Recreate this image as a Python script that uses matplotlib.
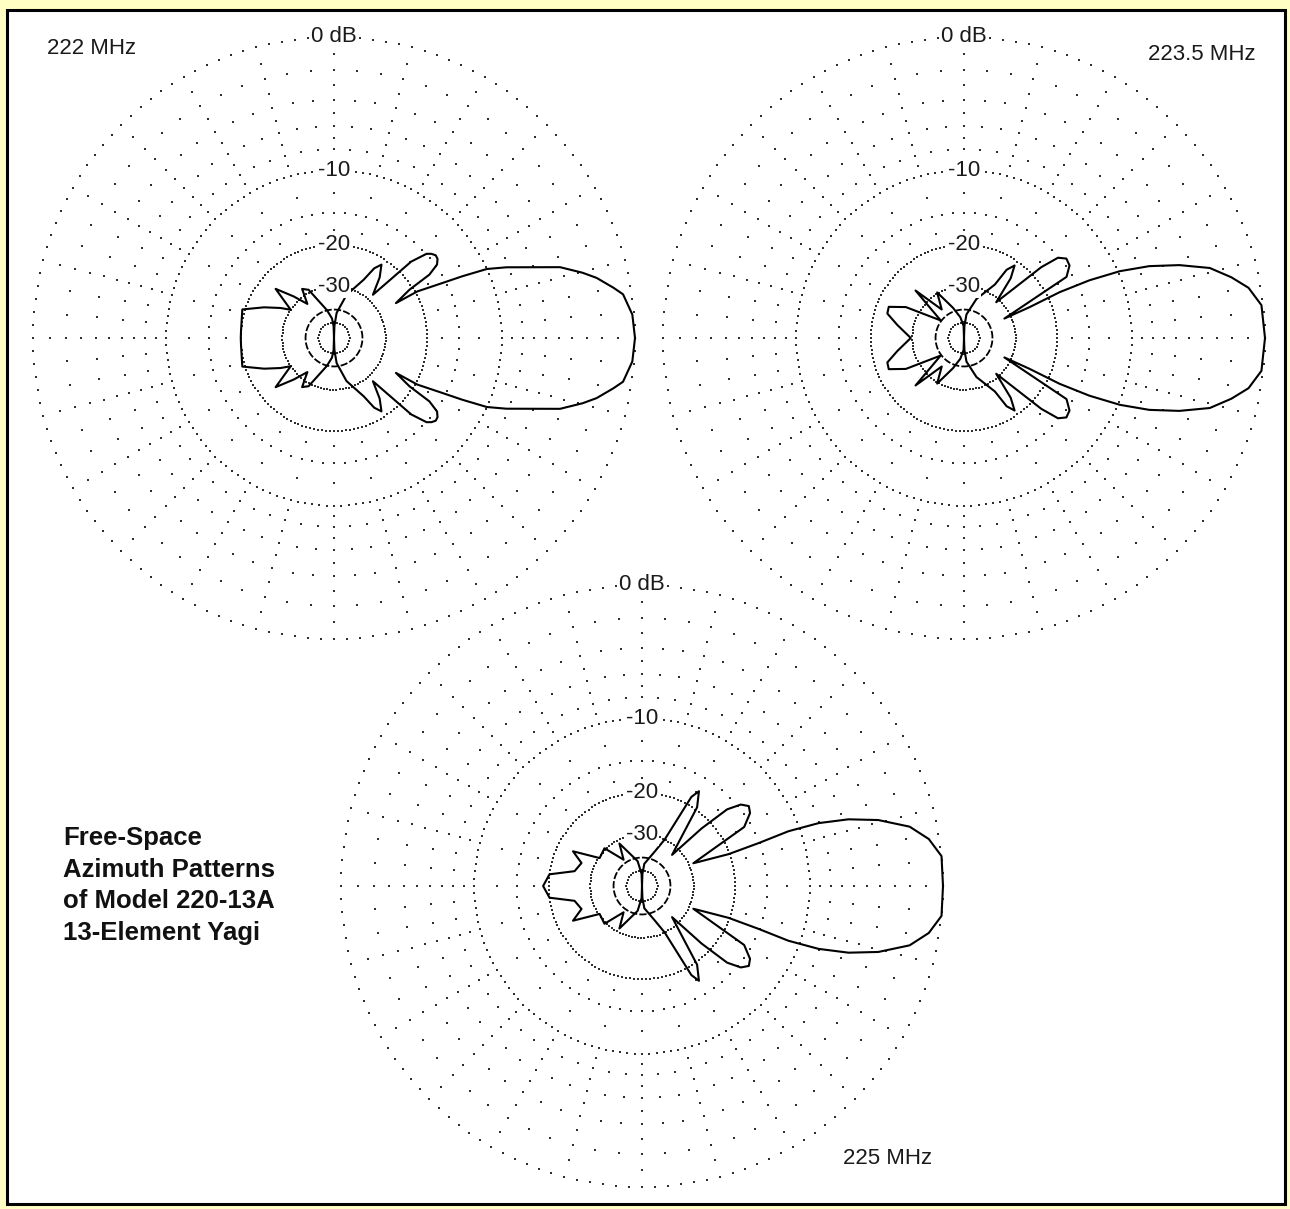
import numpy as np
import matplotlib
matplotlib.use('Agg')
import matplotlib.pyplot as plt
from matplotlib.patches import Rectangle

# figure size in pixels
W, H = 1290, 1209
DPI = 100
R_PX = 301          # radius of the 0 dB ring

# pattern data: upper half (0..180 deg), lower half is the mirror image
theta_222 = [0, 4.5, 8.6, 10.2, 12.9, 14.7, 17.4, 22.3, 24.3, 25.7, 26.9, 29.2, 29.4,
             32.6, 33.6, 35.5, 37.4, 39.1, 40.8, 42.3, 44.7, 48, 53, 57.1, 60, 63, 73.8, 84, 88, 90,
             92, 96, 104.3, 117.8, 123, 128, 134.1, 139.9, 146.9, 150.7, 156.3,
             162.7, 175.7, 180]
gain_222 = [0, -0.1, -0.5, -1.0, -1.9, -2.7, -4.1, -8.2, -10.0, -12.8, -15.5, -19.6, -24.6,
            -20.7, -16.5, -14.8, -14.3, -14.2, -14.5, -15.0, -17.4, -28.0, -23.5, -21.1, -22.5, -26.0,
            -32.4, -42, -54, -100,
            -54, -46, -39.8, -29.1, -27.9, -33, -28.1, -23.4, -30.0, -27.1, -23.4,
            -19.5, -20.0, -20.0]

theta_2235 = [0, 6.3, 10, 12.8, 15.9, 18.7, 21.2, 23.2, 24.7, 25.6, 25.2, 25.7,
              30.8, 34.5, 37.8, 40.5, 42.5, 48, 52, 55.1, 58, 60, 72.3, 84, 88, 90,
              92, 100, 110, 120.5, 128, 135.6, 143, 152, 157.5, 162.3, 169, 180]
gain_2235 = [0, -0.1, -0.7, -1.6, -2.8, -4.8, -7.1, -9.8, -13.3, -17.8, -24.3, -32.4,
             -15.8, -14.6, -14.4, -15.2, -18.0, -31.2, -23.5, -20.9, -22.5, -27, -33.9, -43, -54, -100,
             -54, -45, -38, -29.6, -36, -25.4, -39.6, -25.9, -22.3, -22.5, -25.4, -29.5]

theta_225 = [0, 5.7, 9.3, 12.5, 15.6, 17.9, 19.6, 20.5, 20.2, 20.2, 23.9,
             30, 34, 36.8, 39.5, 42, 44, 46, 55, 59, 61, 64, 70, 84, 88, 90,
             92, 100, 118, 125, 134.8, 146.6, 153.3, 159.2, 167.6, 172.8, 180]
gain_225 = [0, 0, -0.6, -1.6, -3.5, -5.6, -8.1, -11.2, -15.1, -20.2, -28.6,
            -16, -14.3, -13.9, -14.6, -16.5, -22, -33, -19.5, -17.1, -18.5, -30, -36, -44, -54, -100,
            -54, -42, -31.2, -38, -29.5, -30.3, -23.2, -26.2, -25.1, -20.0, -19.0]

freq_labels = ['222 MHz', '223.5 MHz', '225 MHz']
ring_labels = ['0 dB', '-10', '-20', '-30']
ring_label_db = [0, -10, -20, -30]
title_lines = ['Free-Space', 'Azimuth Patterns', 'of Model 220-13A', '13-Element Yagi']

# ARRL log-periodic scale: radius x0.89 for every 2 dB down
def arrl_fwd(db):
    return 0.89 ** (-np.asarray(db, dtype=float) / 2.0)

def arrl_inv(v):
    v = np.clip(np.asarray(v, dtype=float), 1e-12, None)
    return -2.0 * np.log(v) / np.log(0.89)

def mirror(theta, gain):
    t = np.asarray(theta, dtype=float)
    g = np.asarray(gain, dtype=float)
    tt = np.concatenate([t, 360 - t[-2::-1]])
    gg = np.concatenate([g, g[-2::-1]])
    return np.radians(tt), gg

plt.rcParams['font.family'] = ['Liberation Sans', 'DejaVu Sans']

fig = plt.figure(figsize=(W / DPI, H / DPI), dpi=DPI)
fig.patch.set_facecolor('#FFFFC4')

# white panel with black frame
fig.add_artist(Rectangle((6.5 / W, 1 - 1203.5 / H), 1278 / W, 1194 / H,
                         transform=fig.transFigure, facecolor='white',
                         edgecolor='black', linewidth=2.2, zorder=0))

dot_col = '#2e2e2e'
dot_size = 3.2

def polar_panel(cx, cy, theta, gain):
    ax = fig.add_axes([(cx - R_PX) / W, 1 - (cy + R_PX) / H, 2 * R_PX / W, 2 * R_PX / H],
                      projection='polar')
    ax.set_rscale('function', functions=(arrl_fwd, arrl_inv))
    ax.set_rlim(-100, 0)
    ax.set_xticks([])
    ax.set_yticks([])
    ax.grid(False)
    ax.spines['polar'].set_visible(False)
    ax.patch.set_alpha(0)

    # major rings, fine dots
    for db in [0, -10, -20, -30, -50]:
        r = R_PX * arrl_fwd(db)
        step = max(2.5, np.degrees(3.2 / r))
        n = int(round(360 / step))
        th = np.linspace(0, 2 * np.pi, n, endpoint=False)
        ax.scatter(th, np.full(n, db), s=dot_size, marker='s', c=dot_col,
                   linewidths=0, clip_on=False, zorder=1)

    # minor rings: even dB every 5 deg, odd dB every 15 deg
    for db in [-1, -2, -3, -4, -5, -6, -7, -8, -9, -12.5, -15, -17.5]:
        step = 5 if db in (-2, -4, -6, -8, -15) else 15
        th = np.radians(np.arange(0, 360, step))
        ax.scatter(th, np.full(len(th), db), s=dot_size, marker='s', c=dot_col,
                   linewidths=0, clip_on=False, zorder=1)

    # -40 dB ring, dashed
    th = np.linspace(0, 2 * np.pi, 200)
    ax.plot(th, np.full(len(th), -40), color='black', lw=1.3, ls=(0, (4, 1.2)), zorder=2)

    # pattern
    t, g = mirror(theta, gain)
    ax.plot(t, g, color='black', lw=1.5, clip_on=False, zorder=3)

    for lab, db in zip(ring_labels, ring_label_db):
        ax.text(np.pi / 2, db, lab, ha='center', va='center', fontsize=16, color='#1a1a1a',
                bbox=dict(facecolor='white', edgecolor='none', pad=0.6), zorder=5)
    return ax

polar_panel(334, 338, theta_222, gain_222)
polar_panel(964, 338, theta_2235, gain_2235)
polar_panel(642, 886, theta_225, gain_225)

fig.text(47 / W, 1 - 48 / H, freq_labels[0], ha='left', va='center', fontsize=16, color='#1a1a1a')
fig.text(1256 / W, 1 - 55 / H, freq_labels[1], ha='right', va='center', fontsize=16, color='#1a1a1a')
fig.text(843 / W, 1 - 1158 / H, freq_labels[2], ha='left', va='center', fontsize=16, color='#1a1a1a')

for i, line in enumerate(title_lines):
    fig.text(63 / W, 1 - (838 + 31.7 * i) / H, line, ha='left', va='center',
             fontsize=18.5, fontweight='bold', color='#111111')

fig.savefig('out.png', dpi=DPI, facecolor=fig.get_facecolor())
